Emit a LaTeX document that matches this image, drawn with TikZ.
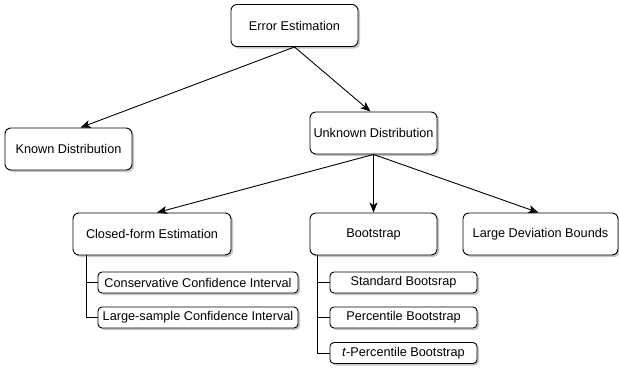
\documentclass[tikz,border=0pt]{standalone}
\usepackage{fontspec}
\setmainfont{Liberation Sans}
\usetikzlibrary{arrows.meta,shadows}

\begin{document}
\begin{tikzpicture}[x=1pt,y=1pt,yscale=-1,xscale=1,
		font=\fontsize{12.7}{15}\selectfont,
		box/.style={draw,line width=0.9pt,fill=white,rounded corners=6pt,inner sep=0pt,
			drop shadow={shadow xshift=2pt,shadow yshift=-2pt,fill=black!45,opacity=0.5}},
		mainbox/.style={box,minimum width=127pt,minimum height=42pt},
		subbox/.style={box,rounded corners=4pt,minimum height=21pt},
		link/.style={line width=0.9pt,-{Stealth[length=10pt,width=8pt,inset=2.5pt]}},
		branch/.style={line width=0.9pt}]
		%set diagram to the reference size
		\useasboundingbox (0,0) rectangle (619,368);
		
		\node [mainbox] (err) at (294.5,25.5) {Error Estimation};
		\node [mainbox] (kd) at (68.5,149) {Known Distribution};
		\node [mainbox] (ud) at (373.5,133) {Unknown Distribution};
		
		\node [mainbox,minimum width=158pt] (cfe) at (152,234) {Closed-form Estimation};
		\node [mainbox] (bs) at (373.5,234) {Bootstrap};
		\node [mainbox,minimum width=155pt] (ldb) at (540.5,234) {Large Deviation Bounds};
		
		\node [subbox,minimum width=200pt] (cci) at (198,282.5) {Conservative Confidence Interval};
		\node [subbox,minimum width=200pt] (lsci) at (198,317.5) {Large-sample Confidence Interval};
		
		\node [subbox,minimum width=147pt] (sb) at (403.5,282.5) {Standard Bootsrap};
		\node [subbox,minimum width=147pt] (pb) at (403.5,317.5) {Percentile Bootstrap};
		\node [subbox,minimum width=147pt] (tpb) at (403.5,353) {\textit{t}-Percentile Bootstrap};
		
		\draw [link] (err.south) -- ([xshift=12pt]kd.north);
		\draw [link] (err.south) -- ([xshift=-3pt]ud.north);
		\draw [link] (ud.south) -- ([xshift=5pt]cfe.north);
		\draw [link] (ud.south) -- (bs.north);
		\draw [link] (ud.south) -- ([xshift=-2pt]ldb.north);
		
		\draw [branch] ([xshift=14pt]cfe.south west) |- (cci.west);
		\draw [branch] ([xshift=14pt]cfe.south west) |- (lsci.west);
		\draw [branch] ([xshift=8pt]bs.south west) |- (sb.west);
		\draw [branch] ([xshift=8pt]bs.south west) |- (pb.west);
		\draw [branch] ([xshift=8pt]bs.south west) |- (tpb.west);
		
	\end{tikzpicture}
\end{document}
